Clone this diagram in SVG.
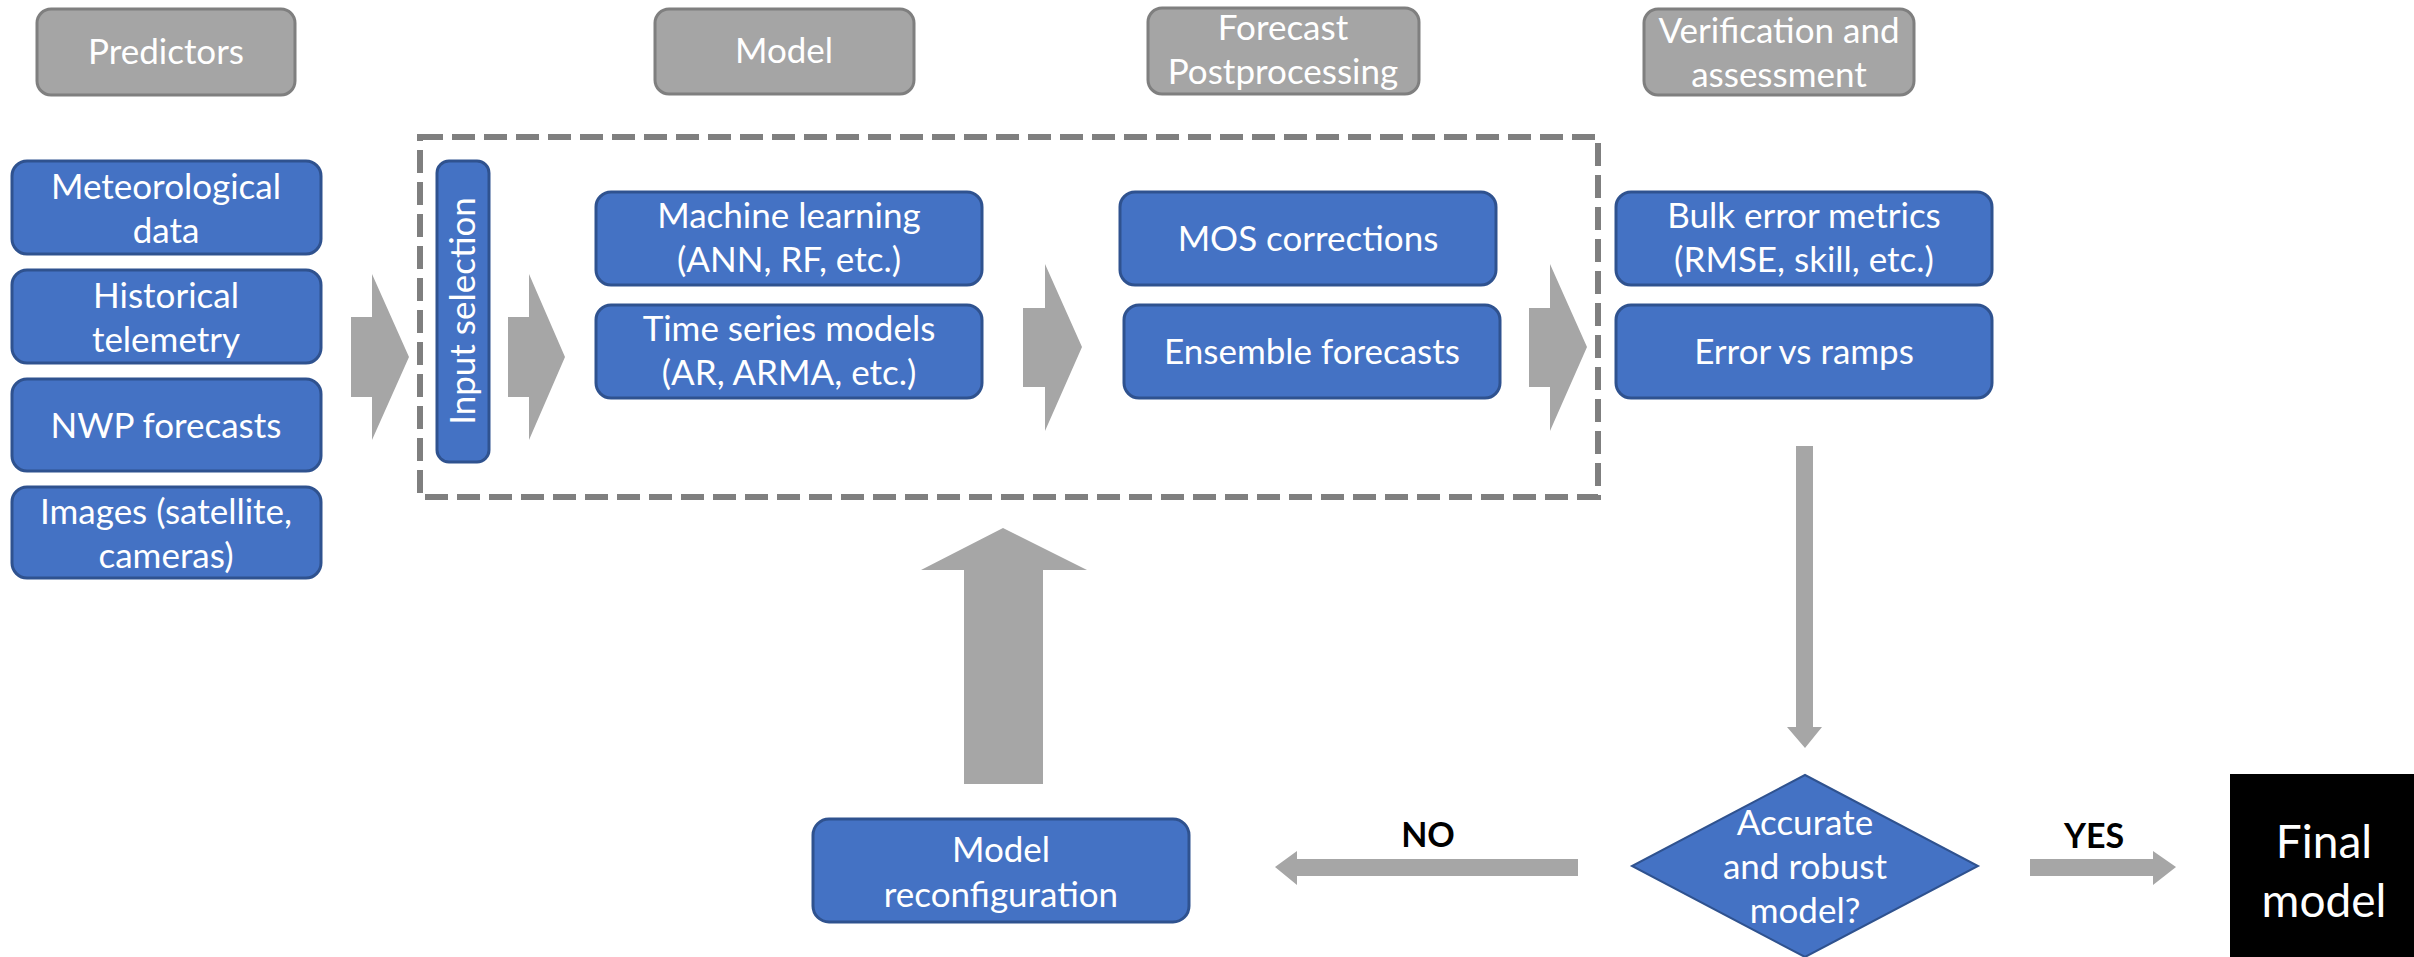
<svg xmlns="http://www.w3.org/2000/svg" width="2414" height="957" viewBox="0 0 2414 957">
  <style>
    .blue { fill: #4472c4; stroke: #2f528f; stroke-width: 3; }
    .hdr { fill: #a5a5a5; stroke: #7f7f7f; stroke-width: 3; }
    .arrow { fill: #a6a6a6; }
    .frame { fill: none; stroke: #7f7f7f; stroke-width: 6; stroke-dasharray: 23 9; }
    .t { font-family: Lato, "Liberation Sans", sans-serif; font-size: 35px; fill: #ffffff; text-anchor: middle; }
    .lbl { font-family: Lato, "Liberation Sans", sans-serif; font-size: 34px; font-weight: bold; fill: #000000; text-anchor: middle; }
    .big { font-family: Lato, "Liberation Sans", sans-serif; font-size: 46px; fill: #ffffff; text-anchor: middle; }
  </style>
  <rect width="2414" height="957" fill="#ffffff"/>

  <!-- column headers -->
  <g id="hdr-predictors">
    <rect class="hdr" x="37" y="9" width="258" height="86" rx="14"/>
    <text class="t" x="166" y="64">Predictors</text>
  </g>
  <g id="hdr-model">
    <rect class="hdr" x="655" y="9" width="259" height="85" rx="14"/>
    <text class="t" x="784" y="63">Model</text>
  </g>
  <g id="hdr-postprocessing">
    <rect class="hdr" x="1148" y="8" width="271" height="86" rx="14"/>
    <text class="t" x="1283" y="40">Forecast</text>
    <text class="t" x="1283" y="84">Postprocessing</text>
  </g>
  <g id="hdr-verification">
    <rect class="hdr" x="1644" y="9" width="270" height="86" rx="14"/>
    <text class="t" x="1779" y="43">Verification and</text>
    <text class="t" x="1779" y="87">assessment</text>
  </g>

  <!-- predictors -->
  <g id="meteorological">
    <rect class="blue" x="12" y="161" width="309" height="93" rx="15"/>
    <text class="t" x="166" y="199">Meteorological</text>
    <text class="t" x="166" y="243">data</text>
  </g>
  <g id="telemetry">
    <rect class="blue" x="12" y="270" width="309" height="93" rx="15"/>
    <text class="t" x="166" y="308">Historical</text>
    <text class="t" x="166" y="352">telemetry</text>
  </g>
  <g id="nwp">
    <rect class="blue" x="12" y="379" width="309" height="92" rx="15"/>
    <text class="t" x="166" y="438">NWP forecasts</text>
  </g>
  <g id="images">
    <rect class="blue" x="12" y="487" width="309" height="91" rx="15"/>
    <text class="t" x="166" y="524">Images (satellite,</text>
    <text class="t" x="166" y="568">cameras)</text>
  </g>

  <!-- model block -->
  <g id="model-frame">
    <rect class="frame" x="420" y="137" width="1178" height="360"/>
  </g>
  <g id="input-selection">
    <rect class="blue" x="437" y="161" width="52" height="301" rx="12"/>
    <text class="t" transform="translate(475,311) rotate(-90)">Input selection</text>
  </g>
  <g id="machine-learning">
    <rect class="blue" x="596" y="192" width="386" height="93" rx="15"/>
    <text class="t" x="789" y="228">Machine learning</text>
    <text class="t" x="789" y="272">(ANN, RF, etc.)</text>
  </g>
  <g id="time-series">
    <rect class="blue" x="596" y="305" width="386" height="93" rx="15"/>
    <text class="t" x="789" y="341">Time series models</text>
    <text class="t" x="789" y="385">(AR, ARMA, etc.)</text>
  </g>
  <g id="mos">
    <rect class="blue" x="1120" y="192" width="376" height="93" rx="15"/>
    <text class="t" x="1308" y="251">MOS corrections</text>
  </g>
  <g id="ensemble">
    <rect class="blue" x="1124" y="305" width="376" height="93" rx="15"/>
    <text class="t" x="1312" y="364">Ensemble forecasts</text>
  </g>

  <!-- verification -->
  <g id="bulk-metrics">
    <rect class="blue" x="1616" y="192" width="376" height="93" rx="15"/>
    <text class="t" x="1804" y="228">Bulk error metrics</text>
    <text class="t" x="1804" y="272">(RMSE, skill, etc.)</text>
  </g>
  <g id="error-ramps">
    <rect class="blue" x="1616" y="305" width="376" height="93" rx="15"/>
    <text class="t" x="1804" y="364">Error vs ramps</text>
  </g>

  <!-- decision and outcomes -->
  <g id="decision">
    <polygon points="1805,775 1978,866 1805,957 1632,866" fill="#4472c4" stroke="#2f528f" stroke-width="2"/>
    <text class="t" x="1805" y="835">Accurate</text>
    <text class="t" x="1805" y="879">and robust</text>
    <text class="t" x="1805" y="923">model?</text>
  </g>
  <g id="reconfiguration">
    <rect class="blue" x="813" y="819" width="376" height="103" rx="16"/>
    <text class="t" x="1001" y="862">Model</text>
    <text class="t" x="1001" y="907">reconfiguration</text>
  </g>
  <g id="final-model">
    <rect x="2230" y="774" width="184" height="183" fill="#000000"/>
    <text class="big" x="2324" y="858">Final</text>
    <text class="big" x="2324" y="917">model</text>
  </g>

  <!-- connectors -->
  <g id="connectors">
    <polygon class="arrow" points="351,317 372,317 372,274 409,357 372,440 372,397 351,397"/>
    <polygon class="arrow" points="508,317 529,317 529,274 565,357 529,440 529,397 508,397"/>
    <polygon class="arrow" points="1023,308 1045,308 1045,264 1082,347 1045,431 1045,387 1023,387"/>
    <polygon class="arrow" points="1529,308 1550,308 1550,264 1587,347 1550,431 1550,387 1529,387"/>
    <polygon class="arrow" points="1796,446 1813,446 1813,727 1822,727 1805,748 1787,727 1796,727"/>
    <polygon class="arrow" points="1578,859 1297,859 1297,851 1275,867 1297,885 1297,876 1578,876"/>
    <polygon class="arrow" points="2030,859 2153,859 2153,851 2176,867 2153,885 2153,876 2030,876"/>
    <polygon class="arrow" points="964,784 964,570 921,570 1003,528 1087,570 1043,570 1043,784"/>
    <text class="lbl" x="1428" y="847">NO</text>
    <text class="lbl" x="2094" y="848">YES</text>
  </g>
</svg>
